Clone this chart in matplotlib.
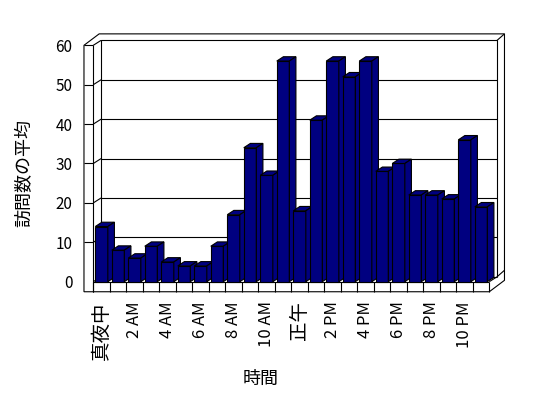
import numpy as np
import matplotlib
matplotlib.use('Agg')
import matplotlib.pyplot as plt
from matplotlib.patches import Polygon

plt.rcParams['font.family'] = ['Noto Sans CJK JP', 'DejaVu Sans']

# average visits per hour (0..23)
hours = list(range(24))
visits = [14, 8, 6, 9, 5, 4, 4, 9, 17, 34, 27, 56, 18, 41, 56, 52, 56, 28, 30, 22, 22, 21, 36, 19]
tick_pos = list(range(0, 24, 2))
tick_labels = ['真夜中', '2 AM', '4 AM', '6 AM', '8 AM', '10 AM',
               '正午', '2 PM', '4 PM', '6 PM', '8 PM', '10 PM']
yticks = [0, 10, 20, 30, 40, 50, 60]

navy = '#000080'
lw = 0.8

# depth of the 3d look (data units)
ox, oy = 0.47, 1.25      # front plane -> back wall
tx, ty = 0.45, 1.65      # back wall thickness
wall_t = 0.565           # left wall thickness
floor_t = 2.55           # floor thickness
bx, by = 0.40, 1.1       # bar depth
bw, boff = 0.76, 0.12    # bar width / offset in slot

fig = plt.figure(figsize=(5.48, 3.98), dpi=100)
ax = fig.add_axes([93.3 / 548, 116.3 / 398, 396 / 548, 236.4 / 398])
ax.set_xlim(0, 24)
ax.set_ylim(0, 60)
for s in ax.spines.values():
    s.set_visible(False)

n = len(hours)
ymax = yticks[-1]

def poly(pts, z, fc='white'):
    ax.add_patch(Polygon(pts, closed=True, facecolor=fc, edgecolor='black',
                         linewidth=lw, zorder=z, clip_on=False))

def line(xs, ys, z=2):
    ax.plot(xs, ys, color='black', linewidth=lw, zorder=z, clip_on=False,
            solid_capstyle='butt')

# walls and floor silhouette
poly([(-wall_t, -floor_t), (-wall_t, ymax),
      (-wall_t + ox + tx, ymax + oy + ty), (n + ox + tx, ymax + oy + ty),
      (n + ox + tx, -floor_t + oy + ty), (n, -floor_t)], 1)

# left wall front face
line([0, 0], [-floor_t, ymax])
line([-wall_t, 0], [ymax, ymax])
# back wall front face
line([ox, ox, n + ox, n + ox], [oy, ymax + oy, ymax + oy, oy])
line([0, ox], [ymax, ymax + oy])
line([n + ox, n + ox + tx], [ymax + oy, ymax + oy + ty])
# floor
line([0, n], [0, 0])
line([0, ox], [0, oy])
line([ox, n + ox], [oy, oy])
line([n, n + ox], [0, oy])
line([n + ox, n + ox + tx], [oy, oy + ty])

# gridlines on back wall and left wall
for v in yticks[1:-1]:
    line([ox, n + ox], [v + oy, v + oy])
    line([0, ox], [v, v + oy])
    line([-wall_t, 0], [v, v])

# category ticks on floor edge
for k in range(n + 1):
    line([k, k], [-floor_t, 0])

# bars
for i, v in zip(hours, visits):
    x0 = i + boff
    x1 = x0 + bw
    poly([(x0, 0), (x1, 0), (x1, v), (x0, v)], 5 + i * 0.01, navy)
    poly([(x0, v), (x0 + bx, v + by), (x1 + bx, v + by), (x1, v)], 5 + i * 0.01, navy)
    poly([(x1, 0), (x1 + bx, by), (x1 + bx, v + by), (x1, v)], 5 + i * 0.01, navy)

# axes text
ax.set_yticks(yticks)
ax.set_yticklabels([str(v) for v in yticks], fontsize=11)
ax.tick_params(axis='y', length=0, pad=15)
ax.set_xticks([p + 0.5 for p in tick_pos])
ax.set_xticklabels(tick_labels, rotation=90, fontsize=12)
ax.tick_params(axis='x', length=0, pad=14)
for t in ax.get_xticklabels():
    if not t.get_text()[0].isdigit():
        t.set_fontsize(14)

ax.set_ylabel('訪問数の平均', fontsize=13)
ax.yaxis.set_label_coords(-0.152, 0.46)
ax.set_xlabel('時間', fontsize=13)
ax.xaxis.set_label_coords(0.4227, -0.3735)

fig.savefig('out.png', dpi=100)
